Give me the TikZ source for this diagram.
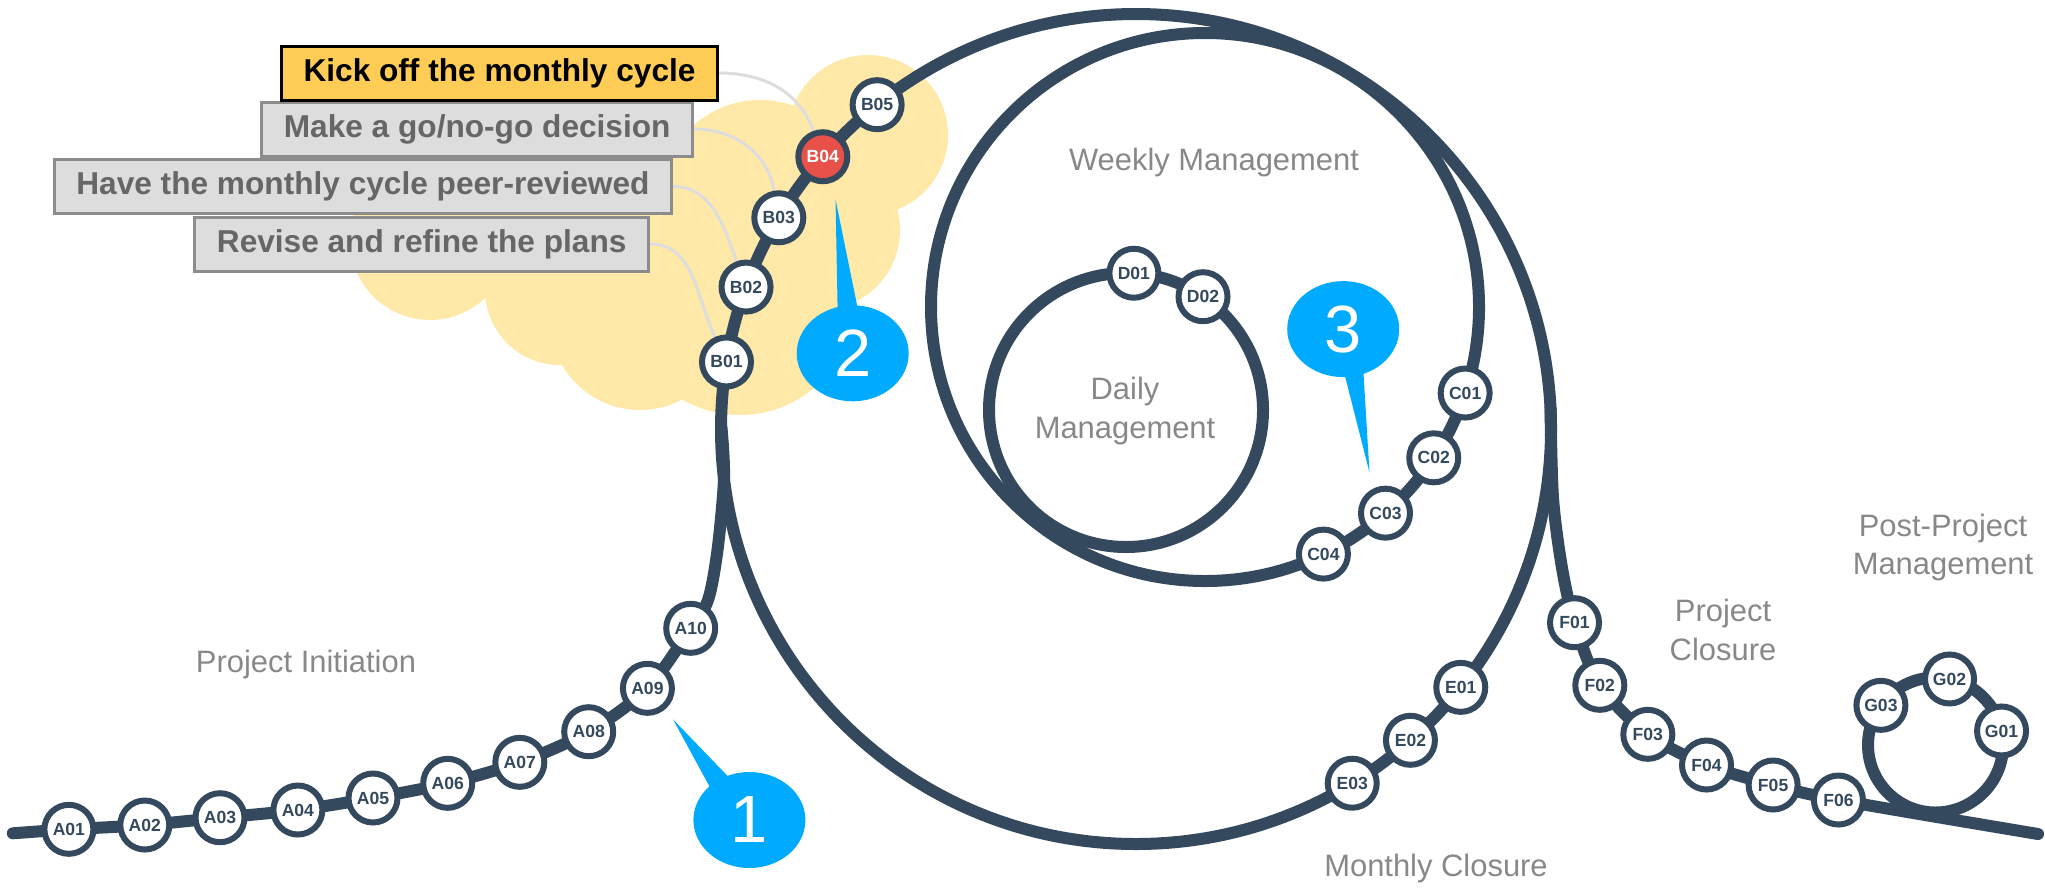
\documentclass[tikz,border=0pt]{standalone}
\usepackage{fontspec}
\setmainfont{Liberation Sans}
\usetikzlibrary{arrows.meta,positioning,calc,shapes.geometric}
\definecolor{trackcol}{RGB}{52,73,94}
\definecolor{cloudcol}{RGB}{255,233,168}
\definecolor{kickcol}{RGB}{255,204,85}
\definecolor{boxcol}{RGB}{221,221,221}
\definecolor{boxline}{RGB}{140,140,140}
\definecolor{boxtext}{RGB}{102,102,102}
\definecolor{labelcol}{RGB}{136,136,136}
\definecolor{bubblecol}{RGB}{0,170,255}
\definecolor{hotcol}{RGB}{232,80,74}
\definecolor{linkcol}{RGB}{221,221,221}
\pgfdeclarelayer{cloud}
\pgfdeclarelayer{rails}
\pgfsetlayers{cloud,rails,main}
\tikzset{
  station/.style={circle, draw=trackcol, line width=0.06cm, fill=white, minimum size=0.49cm,
    inner sep=0pt, text=trackcol, font=\fontsize{5}{5}\selectfont\bfseries},
  hotstation/.style={station, fill=hotcol, text=white},
  rail/.style={draw=trackcol, line width=0.12cm, line cap=round},
  stepbox/.style={draw=boxline, fill=boxcol, line width=0.03cm, text=boxtext, anchor=east,
    minimum height=0.54cm, inner xsep=0.22cm, font=\fontsize{9}{9}\selectfont\bfseries},
  kickbox/.style={stepbox, draw=black, fill=kickcol, text=black},
  phase/.style={text=labelcol, align=center, font=\fontsize{8.8}{11}\selectfont},
  numbubble/.style={ellipse, fill=bubblecol, text=white, minimum width=1.12cm, minimum height=0.96cm,
    inner sep=0pt, font=\fontsize{19}{19}\selectfont},
  boxlink/.style={draw=linkcol, line width=0.03cm},
}
\begin{document}
\begin{tikzpicture}
  \useasboundingbox (0,0) rectangle (20.45,8.88);
  % centres of the loops
  \coordinate (mc) at (11.36,4.59);
  \coordinate (wc) at (12.05,5.81);
  \coordinate (dc) at (11.26,4.78);
  \coordinate (gc) at (19.355,1.43);
  % Project Initiation stations
  \foreach \n/\x/\y in {01/0.689/0.587, 02/1.448/0.630, 03/2.200/0.703, 04/2.979/0.780, 05/3.730/0.900,
                        06/4.477/1.047, 07/5.198/1.257, 08/5.887/1.563, 09/6.474/1.997, 10/6.907/2.597}
    \node[station] (A\n) at (\x,\y) {A\n};
  % monthly loop
  \foreach \n/\ang in {01/170.7, 02/160.0, 03/149.4, 05/128.6}
    \node[station] (B\n) at ($(mc)+(\ang:4.15)$) {B\n};
  \node[hotstation] (B04) at ($(mc)+(139.0:4.15)$) {B04};
  \foreach \n/\ang in {01/-38.5, 02/-48.6, 03/-58.6}
    \node[station] (E\n) at ($(mc)+(\ang:4.15)$) {E\n};
  % weekly and daily loops
  \foreach \n/\ang in {01/-18.3, 02/-33.4, 03/-48.8, 04/-64.4}
    \node[station] (C\n) at ($(wc)+(\ang:2.74)$) {C\n};
  \foreach \n/\ang in {01/86.7, 02/55.8}
    \node[station] (D\n) at ($(dc)+(\ang:1.37)$) {D\n};
  % closure and post-project
  \foreach \n/\x/\y in {01/15.745/2.653, 02/15.998/2.027, 03/16.478/1.537, 04/17.065/1.230,
                        05/17.731/1.030, 06/18.384/0.880}
    \node[station] (F\n) at (\x,\y) {F\n};
  \foreach \n/\ang in {01/12, 02/78, 03/144}
    \node[station] (G\n) at ($(gc)+(\ang:0.675)$) {G\n};
  % step boxes
  \node[stepbox] (revise) at (6.50,6.44) {Revise and refine the plans};
  \node[stepbox] (review) at (6.73,7.015) {Have the monthly cycle peer-reviewed};
  \node[stepbox] (gonogo) at (6.94,7.59) {Make a go/no-go decision};
  \node[kickbox] (kick) at (7.19,8.15) {Kick off the monthly cycle};
  % phase labels
  \node[phase] (initlbl) at (3.06,2.24) {Project Initiation};
  \node[phase] (weeklbl) at (12.14,7.25) {Weekly Management};
  \node[phase] (dailylbl) at (11.25,4.77) {Daily\\Management};
  \node[phase] (monthlbl) at (14.36,0.20) {Monthly Closure};
  \node[phase] (closelbl) at (17.23,2.58) {Project\\Closure};
  \node[phase] (postlbl) at (19.43,3.405) {Post-Project\\Management};
  % numbered bubbles
  \node[numbubble] (n1) at (7.494,0.68) {1};
  \node[numbubble] (n2) at (8.527,5.347) {2};
  \node[numbubble] (n3) at (13.432,5.589) {3};
  \coordinate (t1) at (6.73,1.687);
  \coordinate (t2) at (8.355,6.887);
  \coordinate (t3) at (13.695,4.154);
  \begin{pgfonlayer}{cloud}
    \fill[cloudcol] (8.68,7.53) circle (0.80) (7.60,6.88) circle (1.00) (7.40,5.88) circle (1.15)
      (6.40,5.68) circle (0.90) (5.60,5.98) circle (0.75) (4.30,6.48) circle (0.80)
      (5.60,6.68) circle (1.00) (8.20,6.58) circle (0.80);
  \end{pgfonlayer}
  \begin{pgfonlayer}{rails}
    % track
    \draw[rail] plot[smooth] coordinates {(0.128,0.547) (A01.center) (A02.center) (A03.center)
      (A04.center) (A05.center) (A06.center) (A07.center) (A08.center) (A09.center) (A10.center)
      (7.08,2.88) (7.175,3.38) (7.24,4.1) (7.215,4.6)};
    \draw[rail] (mc) circle (4.15);
    \draw[rail] (wc) circle (2.74);
    \draw[rail] (dc) circle (1.37);
    \draw[rail] (gc) circle (0.675);
    \draw[rail] plot[smooth] coordinates {(15.505,4.8) (15.53,3.9) (15.62,3.2) (F01.center)
      (F02.center) (F03.center) (F04.center) (F05.center) (F06.center) (20.38,0.54)};
    % box links
    \draw[boxlink] (kick.east) to[out=0,in=110] (B04);
    \draw[boxlink] (gonogo.east) to[out=0,in=100] (B03);
    \draw[boxlink] (review.east) to[out=0,in=110] (B02);
    \draw[boxlink] (revise.east) to[out=0,in=115] (B01);
    % bubble tails
    \fill[bubblecol] (t1) -- ($(n1.center)+(-0.38,0.30)$) -- ($(n1.center)+(-0.18,0.40)$) -- cycle;
    \fill[bubblecol] (t2) -- ($(n2.center)+(-0.15,0.40)$) -- ($(n2.center)+(0.06,0.40)$) -- cycle;
    \fill[bubblecol] (t3) -- ($(n3.center)+(0.0,-0.40)$) -- ($(n3.center)+(0.2,-0.40)$) -- cycle;
  \end{pgfonlayer}
\end{tikzpicture}
\end{document}
